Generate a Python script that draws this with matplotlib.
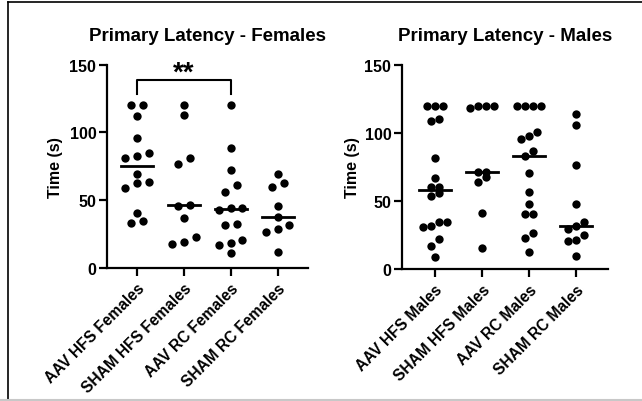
import numpy as np
import matplotlib
matplotlib.use("Agg")
from matplotlib import pyplot as plt
from matplotlib.lines import Line2D

plt.rcParams['font.family'] = ['Liberation Sans', 'DejaVu Sans']
plt.rcParams['font.weight'] = 'bold'

# data (seconds)
female_groups = ["AAV HFS Females", "SHAM HFS Females", "AAV RC Females", "SHAM RC Females"]
aav_hfs_f = [120, 120, 112.4, 95.7, 81.2, 82.4, 84.8, 69.4, 62.7, 63.2, 58.8, 40.3, 33.0, 34.7]
sham_hfs_f = [120, 112.9, 81.4, 76.5, 45.7, 46.7, 36.6, 17.7, 22.6, 19.2]
aav_rc_f = [120, 88.5, 72.5, 61.2, 56.3, 43.0, 44.0, 44.0, 31.7, 32.5, 20.7, 18.4, 17.0, 11.1]
sham_rc_f = [69.6, 59.8, 62.7, 46.0, 37.9, 32.0, 28.5, 26.8, 11.8]

male_groups = ["AAV HFS Males", "SHAM HFS Males", "AAV RC Males", "SHAM RC Males"]
aav_hfs_m = [120, 120, 120, 108.9, 110.1, 81.3, 66.8, 60.4, 60.4, 53.8, 55.6,
             34.3, 31.8, 31.1, 34.8, 22.0, 17.1, 8.6]
sham_hfs_m = [120, 118, 120, 120, 71.0, 71.0, 63.6, 67.8, 41.1, 15.4]
aav_rc_m = [120, 120, 120, 120, 97.9, 95.4, 100.8, 86.4, 83.2, 70.5, 56.3, 47.7,
            40.4, 40.4, 26.4, 22.5, 12.7]
sham_rc_m = [113.8, 105.7, 76.6, 47.5, 31.6, 34.7, 29.4, 25.0, 20.8, 21.3, 9.8]


def row_offsets(vals, step, thresh=5.5):
    # group close values into rows and spread each row around the centre
    order = np.argsort(vals)
    v = np.asarray(vals, dtype=float)
    offs = np.zeros(len(v))
    rows = []
    for i in order:
        if rows and v[i] - v[rows[-1][0]] <= thresh:
            rows[-1].append(i)
        else:
            rows.append([i])
    for r in rows:
        n = len(r)
        for k, i in enumerate(r):
            offs[i] = (k - (n - 1) / 2) * step
    return offs


def draw_panel(ax, groups, data, title, xlim, step, ylab_x):
    for gi, vals in enumerate(data):
        offs = row_offsets(vals, step)
        ax.scatter(gi + offs, vals, s=36, color='black', zorder=3, clip_on=False, linewidths=0)
        med = np.median(vals)
        ax.plot([gi - 0.34, gi + 0.34], [med, med], color='black', lw=2, zorder=4)
    ax.set_xlim(*xlim)
    ax.set_ylim(0, 150)
    ax.set_yticks([0, 50, 100, 150])
    ax.set_xticks(range(len(groups)))
    ax.set_xticklabels(groups, rotation=45, ha='right', rotation_mode='anchor',
                       fontsize=11.2, fontweight='bold')
    ax.tick_params(axis='y', labelsize=11.5, width=1.6, length=6, pad=1.5)
    ax.tick_params(axis='x', width=1.6, length=6, pad=3)
    for lab in ax.get_yticklabels():
        lab.set_fontweight('bold')
    ax.spines['top'].set_visible(False)
    ax.spines['right'].set_visible(False)
    ax.spines['left'].set_linewidth(1.6)
    ax.spines['bottom'].set_linewidth(1.6)
    ax.set_ylabel("Time (s)", fontsize=11.5, fontweight='bold')
    ax.yaxis.set_label_coords(ylab_x, 0.5)
    ax.set_title(title, fontsize=13.5, fontweight='bold', pad=18)


fig = plt.figure(figsize=(6.42, 4.02), dpi=100)
ax1 = fig.add_axes([0.1662, 0.3308, 0.3136, 0.5058])
ax2 = fig.add_axes([0.6257, 0.3284, 0.3213, 0.5082])

draw_panel(ax1, female_groups, [aav_hfs_f, sham_hfs_f, aav_rc_f, sham_rc_f],
           "Primary Latency - Females", (-0.645, 3.64), 0.245, -0.215)
draw_panel(ax2, male_groups, [aav_hfs_m, sham_hfs_m, aav_rc_m, sham_rc_m],
           "Primary Latency - Males", (-0.705, 3.67), 0.172, -0.2)

# significance bracket
ax1.plot([0, 0, 2, 2], [128.5, 138.5, 138.5, 128.5], color='black', lw=1.5, clip_on=False)
ax1.text(1, 139, "**", ha='center', va='baseline', fontsize=20, fontweight='bold')

# frame around the figure
fig.add_artist(Line2D([8 / 642, 8 / 642], [0.003, 1 - 3 / 402], color='black', lw=1.2,
                      transform=fig.transFigure))
fig.add_artist(Line2D([8 / 642, 1], [1 - 3 / 402, 1 - 3 / 402], color='black', lw=1.2,
                      transform=fig.transFigure))
fig.add_artist(Line2D([0, 1], [1.5 / 402, 1.5 / 402], color='#c8c8c8', lw=1.5,
                      transform=fig.transFigure))

fig.savefig("out.png", dpi=100)
